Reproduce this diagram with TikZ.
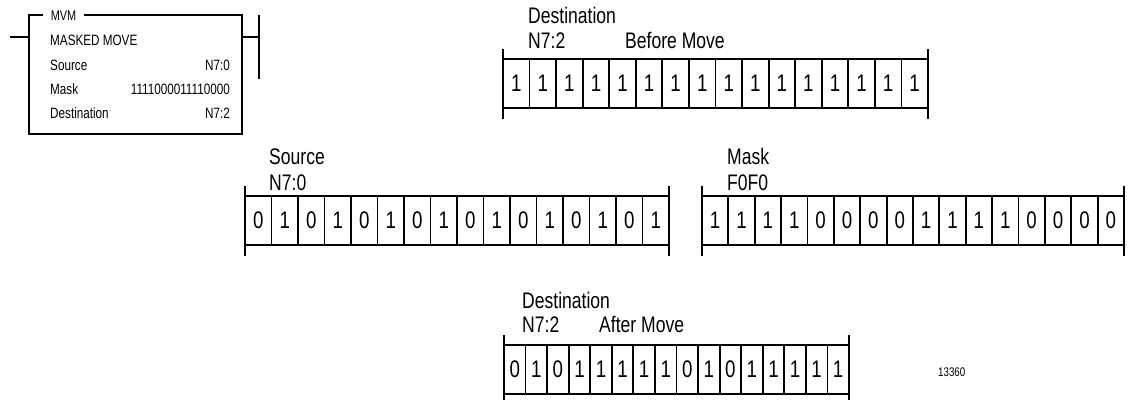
\documentclass[tikz,border=0pt]{standalone}
\usepackage{fontspec}
\setmainfont{Liberation Sans}[FakeStretch=0.78]
\usetikzlibrary{positioning}
\tikzset{
  instr/.style      = {draw, line width=2.4pt, inner sep=0, outer sep=0},
  instrhd/.style    = {fill=white, inner xsep=8pt, inner ysep=0,
                       font=\fontsize{14}{16}\selectfont},
  instrtxt/.style   = {inner sep=0, font=\fontsize{15}{17}\selectfont},
  rung/.style       = {line width=2.4pt},
  bitcell/.style    = {draw, line width=1.8pt, inner sep=0, outer sep=0,
                       minimum height=49pt, font=\fontsize{24}{26}\selectfont},
  endbar/.style     = {line width=2.4pt},
  reglbl/.style     = {anchor=base west, inner sep=0,
                       font=\fontsize{22.5}{25}\selectfont},
  fignum/.style     = {anchor=base west, inner sep=0,
                       font=\fontsize{12.5}{14}\selectfont},
}
\begin{document}
\begin{tikzpicture}[x=1pt, y=-1pt]
\useasboundingbox (0,0) rectangle (1131,399);

% --- rung with the MVM instruction ---
\node[instr, minimum width=213pt, minimum height=119pt] (mvm) at (135.5,74.5) {};
\node[instrhd] (mvmHd) at (63.5,15.5) {MVM};
\coordinate (railL) at (10,37);
\coordinate (railR) at (259,37);
\draw[rung] (railL) -- (railL -| mvm.west);
\draw[rung] (mvm.east |- railR) -- (railR);
\draw[rung] (259,15) -- (259,79);

\node[instrtxt, anchor=base west] (mvmName) at (50,45.7) {MASKED MOVE};
\node[instrtxt, anchor=base west] (mvmSrc)  at (50,70.5) {Source};
\node[instrtxt, anchor=base east] (mvmSrcV) at (230,70.5) {N7:0};
\node[instrtxt, anchor=base west] (mvmMsk)  at (50,94.3) {Mask};
\node[instrtxt, anchor=base east] (mvmMskV) at (230,94.3) {1111000011110000};
\node[instrtxt, anchor=base west] (mvmDst)  at (50,118) {Destination};
\node[instrtxt, anchor=base east] (mvmDstV) at (230,118) {N7:2};

% --- destination before the move ---
\def\wBefore{26.56}
\foreach \b [count=\i] in {1,1,1,1,1,1,1,1,1,1,1,1,1,1,1,1}
  \node[bitcell, minimum width=\wBefore pt] (before\i) at ({503+(\i-0.5)*\wBefore}, 83.5) {\b};
\draw[endbar] (before1.north west) ++(0,-10.5) -- ++(0,70);
\draw[endbar] (before16.north east) ++(0,-10.5) -- ++(0,70);
\node[reglbl] (beforeName) at (528,23) {Destination};
\node[reglbl] (beforeAddr) at (528,48) {N7:2};
\node[reglbl] (beforeNote) at (625,48) {Before Move};

% --- source ---
\def\wSrc{26.5}
\foreach \b [count=\i] in {0,1,0,1,0,1,0,1,0,1,0,1,0,1,0,1}
  \node[bitcell, minimum width=\wSrc pt] (src\i) at ({245+(\i-0.5)*\wSrc}, 220.5) {\b};
\draw[endbar] (src1.north west) ++(0,-10.5) -- ++(0,70);
\draw[endbar] (src16.north east) ++(0,-10.5) -- ++(0,70);
\node[reglbl] (srcName) at (269,164) {Source};
\node[reglbl] (srcAddr) at (269,190) {N7:0};

% --- mask ---
\def\wMask{26.375}
\foreach \b [count=\i] in {1,1,1,1,0,0,0,0,1,1,1,1,0,0,0,0}
  \node[bitcell, minimum width=\wMask pt] (mask\i) at ({702+(\i-0.5)*\wMask}, 220.5) {\b};
\draw[endbar] (mask1.north west) ++(0,-10.5) -- ++(0,70);
\draw[endbar] (mask16.north east) ++(0,-10.5) -- ++(0,70);
\node[reglbl] (maskName) at (727,164) {Mask};
\node[reglbl] (maskHex)  at (727,190) {F0F0};

% --- destination after the move ---
\def\wAfter{21.56}
\foreach \b [count=\i] in {0,1,0,1,1,1,1,1,0,1,0,1,1,1,1,1}
  \node[bitcell, minimum width=\wAfter pt] (after\i) at ({504+(\i-0.5)*\wAfter}, 369.5) {\b};
\draw[endbar] (after1.north west) ++(0,-10.5) -- ++(0,70);
\draw[endbar] (after16.north east) ++(0,-10.5) -- ++(0,70);
\node[reglbl] (afterName) at (522,308) {Destination};
\node[reglbl] (afterAddr) at (522,332) {N7:2};
\node[reglbl] (afterNote) at (599,332) {After Move};

% figure number
\node[fignum] (figNo) at (938,376) {13360};

\end{tikzpicture}
\end{document}
